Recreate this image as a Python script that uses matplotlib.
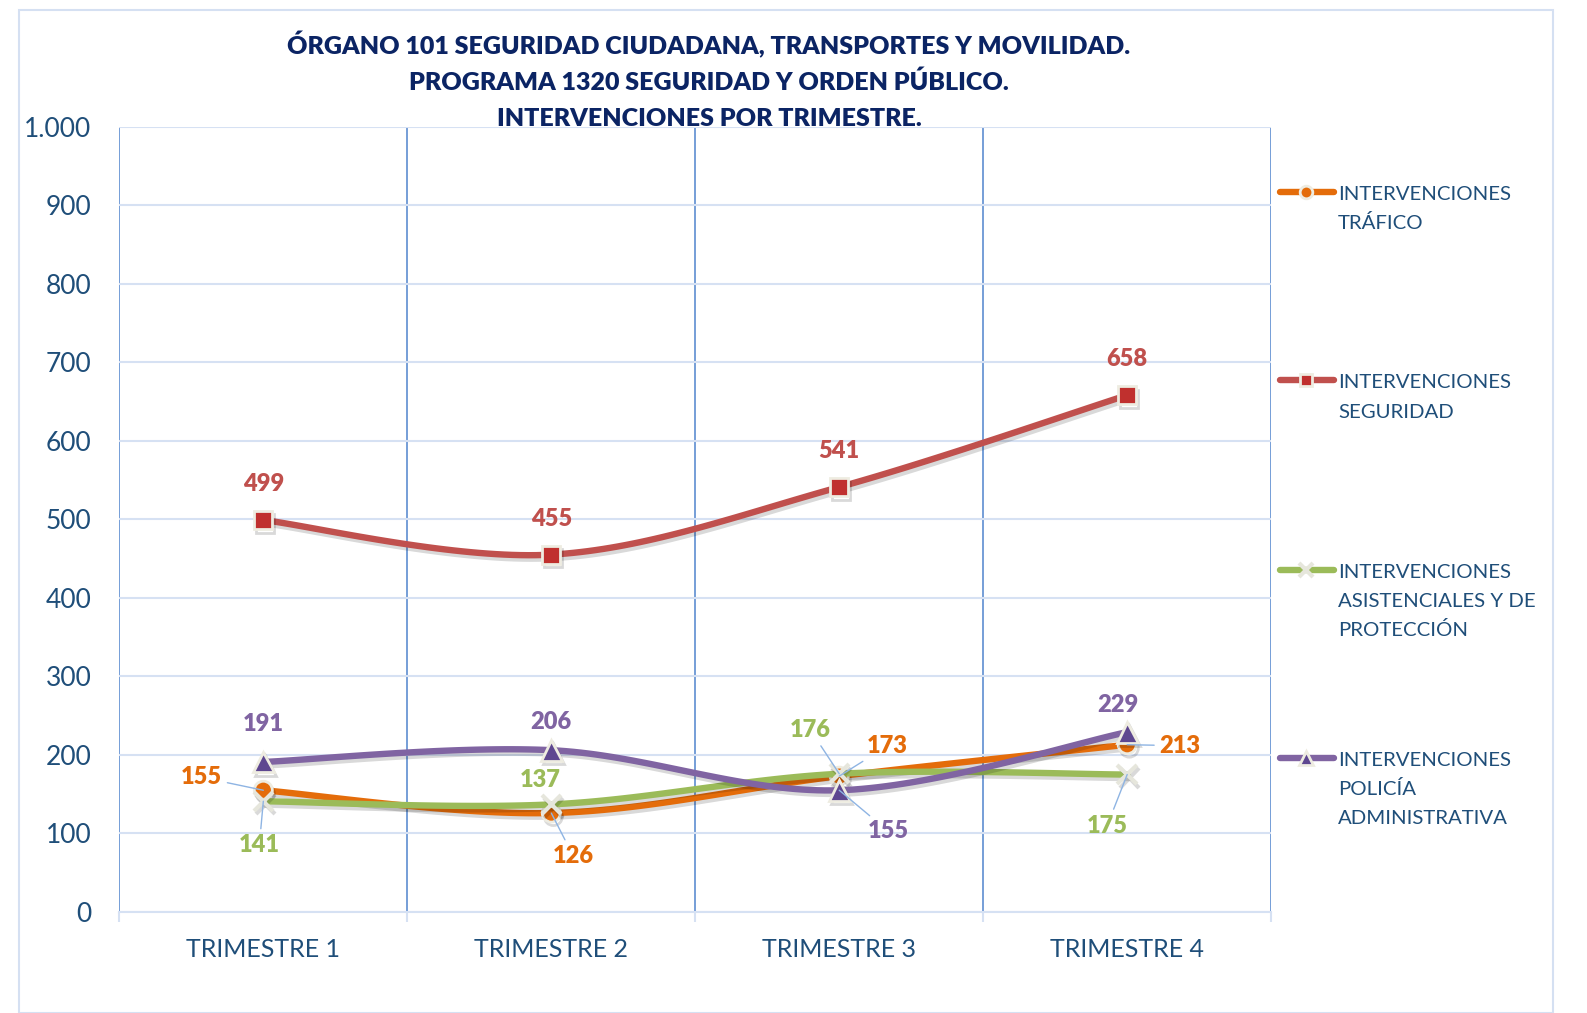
import numpy as np
import matplotlib.pyplot as plt
import matplotlib.patheffects as pe
from matplotlib.lines import Line2D
from matplotlib.patches import Rectangle

plt.rcParams['font.family'] = ['Lato', 'DejaVu Sans']

# datos
trimestres = ["TRIMESTRE 1", "TRIMESTRE 2", "TRIMESTRE 3", "TRIMESTRE 4"]
trafico = [155, 126, 173, 213]
seguridad = [499, 455, 541, 658]
asistenciales = [141, 137, 176, 175]
policia = [191, 206, 155, 229]
nombres = [
    ["INTERVENCIONES", "TRÁFICO"],
    ["INTERVENCIONES", "SEGURIDAD"],
    ["INTERVENCIONES", "ASISTENCIALES Y DE", "PROTECCIÓN"],
    ["INTERVENCIONES", "POLICÍA", "ADMINISTRATIVA"],
]
titulo = [
    "ÓRGANO 101 SEGURIDAD CIUDADANA, TRANSPORTES Y MOVILIDAD.",
    "PROGRAMA 1320 SEGURIDAD Y ORDEN PÚBLICO.",
    "INTERVENCIONES POR TRIMESTRE.",
]
y_ticks = [0, 100, 200, 300, 400, 500, 600, 700, 800, 900, 1000]

# estilos
colores = ["#E46C0A", "#C0504D", "#9BBB59", "#8064A2"]
marcadores = [
    dict(marker="o", ms=13, mfc="#E46C0A", mec="#EEECE1", mew=2),
    dict(marker="s", ms=13, mfc="#C0302E", mec="#EEECE1", mew=2),
    dict(marker="x", ms=14, mfc="#EEECE1", mec="#E6E6DC", mew=3),
    dict(marker="^", ms=15, mfc="#5E4790", mec="#EEECE1", mew=2),
]
# desplazamiento de etiquetas en pixeles (dx, dy, linea guia)
offsets = [
    [(-62, 13, True), (22, -43, True), (48, 30, True), (53, -1, True)],
    [(0, 36, False), (0, 36, False), (0, 36, False), (0, 36, False)],
    [(-4, -44, True), (-11, 24, False), (-29, 44, True), (-20, -51, True)],
    [(0, 38, False), (0, 28, False), (49, -41, True), (-9, 27, False)],
]
navy = "#1F4E79"


def suavizar(x, y, n=40):
    # curva tipo Catmull-Rom, como la linea suavizada de Excel
    p = np.column_stack([x, y]).astype(float)
    p = np.vstack([p[0], p, p[-1]])
    t = np.linspace(0, 1, n)[:, None]
    out = []
    for i in range(len(p) - 3):
        p0, p1, p2, p3 = p[i], p[i + 1], p[i + 2], p[i + 3]
        seg = 0.5 * ((2 * p1) + (-p0 + p2) * t
                     + (2 * p0 - 5 * p1 + 4 * p2 - p3) * t ** 2
                     + (-p0 + 3 * p1 - 3 * p2 + p3) * t ** 3)
        out.append(seg)
    out = np.vstack(out)
    return out[:, 0], out[:, 1]


fig = plt.figure(figsize=(15.87, 10.13), dpi=100)
fig.patches.append(Rectangle((19 / 1587, 0), (1553 - 19) / 1587, 1 - 10 / 1013,
                             transform=fig.transFigure, fill=False,
                             edgecolor="#D5E0F2", lw=1.5))

ax = fig.add_axes([0.0752, 0.0997, 0.7258, 0.7754])
xs = np.arange(len(trimestres)) + 0.5
ax.set_xlim(0, 4)
ax.set_ylim(0, 1000)

ax.set_xticks(xs)
ax.set_xticklabels(trimestres)
ax.set_xticks(np.arange(0, 5), minor=True)
ax.set_yticks(y_ticks)
ax.set_yticklabels([f"{v:,}".replace(",", ".") for v in y_ticks])
ax.grid(which="minor", axis="x", color="#6A96D4", lw=1.3)
ax.grid(which="major", axis="y", color="#D6E1F3", lw=1.5)
ax.tick_params(axis="x", which="major", length=0, pad=19, labelsize=18, labelcolor=navy)
ax.tick_params(axis="x", which="minor", length=7, color="#D6E1F3", width=1.5, direction="out")
ax.tick_params(axis="y", length=0, pad=20, labelsize=19, labelcolor=navy)
for s in ["top", "right", "left"]:
    ax.spines[s].set_visible(False)
ax.spines["bottom"].set_color("#D6E1F3")
ax.spines["bottom"].set_linewidth(1.5)
ax.set_axisbelow(True)

series = [trafico, seguridad, asistenciales, policia]
sombra = [pe.SimpleLineShadow(offset=(1.5, -2.5), shadow_color="black", alpha=0.15), pe.Normal()]
for k, vals in enumerate(series):
    cx, cy = suavizar(xs, vals)
    ax.plot(cx, cy, color=colores[k], lw=4.6, solid_capstyle="round",
            path_effects=sombra, zorder=3 + k)
    ax.plot(xs, vals, ls="none", zorder=3.5 + k, path_effects=sombra, **marcadores[k])
    for i, v in enumerate(vals):
        dx, dy, guia = offsets[k][i]
        arrow = dict(arrowstyle="-", color="#8EB4E3", lw=1, shrinkA=2, shrinkB=0) if guia else None
        ax.annotate(str(v), (xs[i], v), xytext=(dx, dy), textcoords="offset pixels",
                    ha="center", va="center", fontsize=17, fontweight="heavy",
                    color=colores[k], arrowprops=arrow, zorder=10)

# titulo (lineas con linea base)
for linea, yy in zip(titulo, [54.5, 90, 126.4]):
    fig.text(709 / 1587, 1 - yy / 1013, linea, ha="center", va="baseline",
             fontsize=18, fontweight="heavy", color="#0B2464")

# leyenda a la derecha
ley_y = [192.3, 380.5, 569.8, 758]
for k, nom in enumerate(nombres):
    yf = 1 - ley_y[k] / 1013
    fig.add_artist(Line2D([1280 / 1587, 1334 / 1587], [yf, yf], color=colores[k], lw=4.6,
                          solid_capstyle="round", transform=fig.transFigure))
    m = dict(marcadores[k])
    m["ms"] = m["ms"] * 0.7
    fig.add_artist(Line2D([1306 / 1587], [yf], ls="none", transform=fig.transFigure, **m))
    for j, linea in enumerate(nom):
        fig.text(1338 / 1587, yf - (7.8 + j * 29.3) / 1013, linea, ha="left", va="baseline",
                 fontsize=14.7, color=navy)

fig.savefig("out.png", dpi=100)
